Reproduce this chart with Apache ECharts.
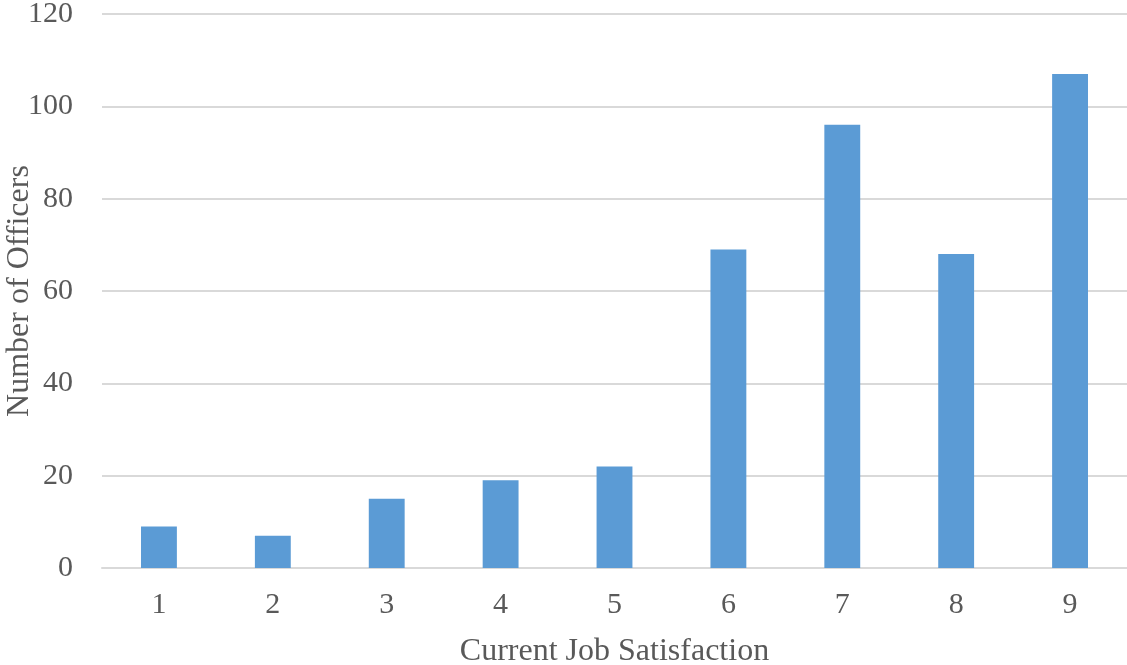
<!DOCTYPE html>
<html><head><meta charset="utf-8">
<script src="https://cdn.jsdelivr.net/npm/echarts@6/dist/echarts.min.js"></script>
<style>html,body{margin:0;padding:0;background:#fff}#c{width:1127px;height:665px}</style>
</head><body><div id="c"></div>
<script>
const categories = ['1','2','3','4','5','6','7','8','9'];
const officers = [9, 7, 15, 19, 22, 69, 96, 68, 107];
const yTicks = {min: 0, max: 120, interval: 20};

const chart = echarts.init(document.getElementById('c'), null, {renderer: 'canvas'});
const font = '"Liberation Serif", "Times New Roman", serif';
chart.setOption({
  animation: false,
  grid: {left: 102, right: 0, top: 14, bottom: 97, containLabel: false, outerBoundsMode: 'none'},
  xAxis: {
    type: 'category', data: categories,
    name: 'Current Job Satisfaction', nameLocation: 'middle', nameGap: 68, nameMoveOverlap: false,
    nameTextStyle: {fontFamily: font, fontSize: 32, color: '#595959'},
    axisLine: {show: true, lineStyle: {color: '#d9d9d9', width: 2}},
    axisTick: {show: false},
    axisLabel: {fontFamily: font, fontSize: 30, color: '#595959', margin: 22}
  },
  yAxis: {
    type: 'value', min: yTicks.min, max: yTicks.max, interval: yTicks.interval,
    name: 'Number of Officers', nameLocation: 'middle', nameGap: 66, nameMoveOverlap: false,
    nameTextStyle: {fontFamily: font, fontSize: 32, color: '#595959'},
    axisLine: {show: false}, axisTick: {show: false},
    axisLabel: {fontFamily: font, fontSize: 30, color: '#595959', margin: 29},
    splitLine: {lineStyle: {color: '#d9d9d9', width: 2}}
  },
  series: [{
    type: 'bar', data: officers, barWidth: '31.5%',
    itemStyle: {color: '#5b9bd5'}
  }]
});
</script></body></html>
